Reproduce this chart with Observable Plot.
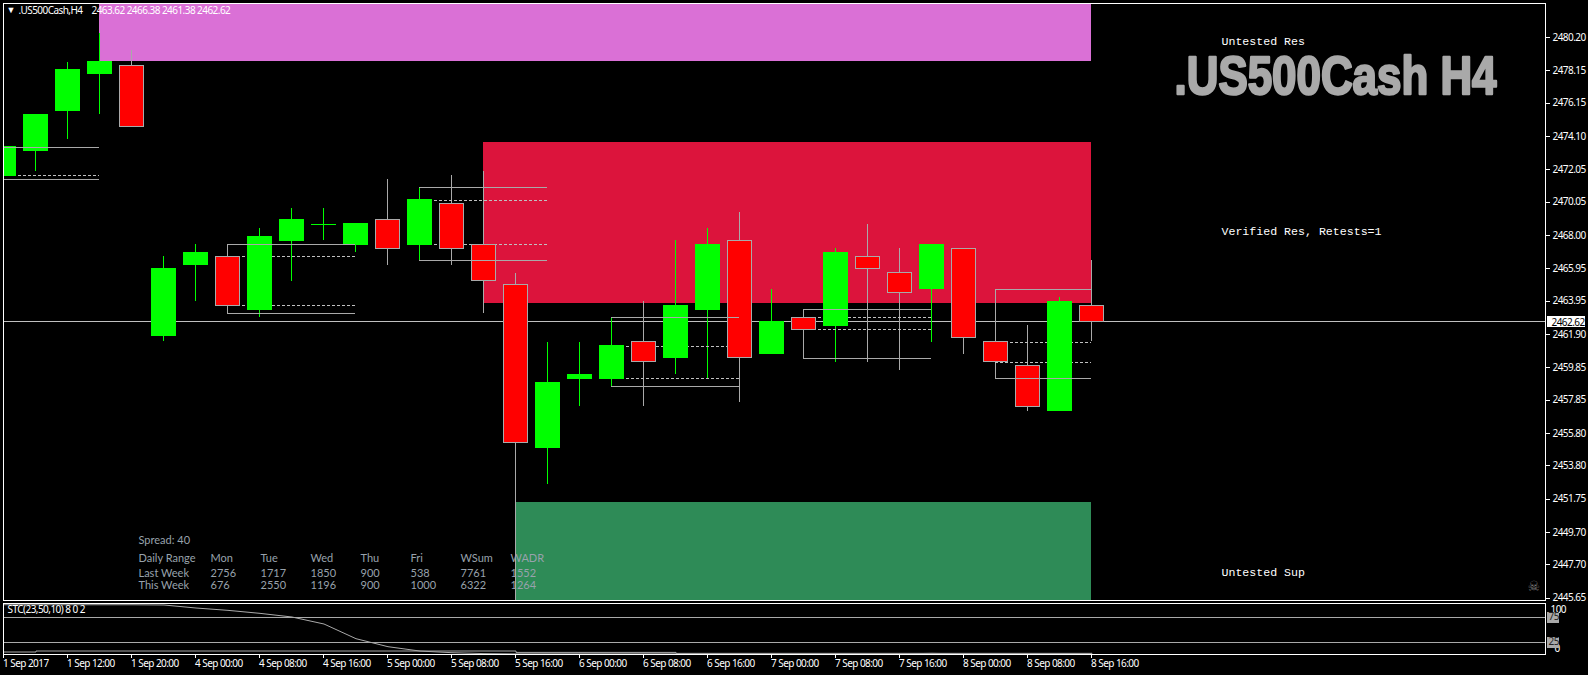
<!DOCTYPE html>
<html><head><meta charset="utf-8">
<script src="https://cdn.jsdelivr.net/npm/d3@7"></script>
<script src="https://cdn.jsdelivr.net/npm/@observablehq/plot@0.6"></script>
<style>html,body{margin:0;padding:0;background:#000;overflow:hidden}svg{display:block;background:#000}
.tight text{letter-spacing:-.55px}</style>
</head><body><div id="c"></div>
<script>
// Bars 0..34, four-hour candles
const opens = [2471.62,2473.12,2475.62,2477.87,2478.37,2461.72,2466.12,2466.62,2463.37,2467.62,2468.62,2467.37,2468.87,2467.37,2469.87,2467.37,2464.87,2454.87,2459.12,2459.12,2461.37,2460.37,2463.37,2467.62,2460.62,2462.87,2462.37,2466.62,2465.62,2464.62,2467.12,2461.37,2459.87,2457.12,2463.62];
const highs = [2473.37,2475.37,2478.62,2480.37,2479.37,2466.62,2467.37,2467.37,2468.37,2469.62,2469.62,2468.62,2471.37,2470.87,2471.62,2471.87,2465.62,2461.37,2461.37,2462.87,2463.87,2467.62,2468.37,2469.37,2464.62,2463.37,2467.12,2468.62,2467.12,2467.37,2467.12,2464.62,2462.37,2464.12,2466.38];
const lows  = [2471.37,2471.87,2473.87,2475.37,2474.62,2461.38,2463.87,2463.12,2462.87,2465.12,2467.62,2466.87,2466.12,2466.37,2466.12,2463.12,2445.40,2452.62,2457.37,2458.62,2457.37,2459.37,2459.12,2457.62,2460.62,2460.37,2460.12,2460.12,2459.62,2461.37,2460.62,2459.12,2457.12,2457.12,2461.38];
const closes= [2473.37,2475.37,2478.12,2478.62,2474.62,2465.87,2466.87,2463.62,2467.87,2468.87,2468.62,2468.62,2467.12,2470.12,2467.12,2465.12,2455.12,2458.87,2459.37,2461.12,2460.12,2463.62,2467.37,2460.37,2462.62,2462.12,2466.87,2465.87,2464.37,2467.37,2461.62,2460.12,2457.37,2463.87,2462.62];
const stcMain = [99.5,99.5,99.5,99.5,99.5,99,93,88.3,82.3,75,61,31.6,15.6,6.9,3.6,1.8,1.2,1.2,1.2,1.2,1.2,1.2,1.2,1.2,1.2,1.2,1.2,1.2,1.2,2.3,1.2,1.2,1.2,1.2,1.2];
const stcSignal = [5,7,7,7,7,7,7,7,7,7,7,7,7,7,7,7,4.2,4.2,4.2,4.2,4.2,2.3,2.3,2.3,2.3,2.3,2.3,2.3,2.3,2.3,2.3,2.3,2.3,2.3,2.3];

const xTickBars = [0,2,4,6,8,10,12,14,16,18,20,22,24,26,28,30,32,34];
const xTickLabels = ["1 Sep 2017","1 Sep 12:00","1 Sep 20:00","4 Sep 00:00","4 Sep 08:00","4 Sep 16:00","5 Sep 00:00","5 Sep 08:00","5 Sep 16:00","6 Sep 00:00","6 Sep 08:00","6 Sep 16:00","7 Sep 00:00","7 Sep 08:00","7 Sep 16:00","8 Sep 00:00","8 Sep 08:00","8 Sep 16:00"];
const yTicks = [2480.20,2478.15,2476.15,2474.10,2472.05,2470.05,2468.00,2465.95,2463.95,2461.90,2459.85,2457.85,2455.80,2453.80,2451.75,2449.70,2447.70,2445.65];

// Supply and demand zones: first bar, last bar, top price, bottom price
const zoneFrom = [3,15,16];
const zoneTo = [34,34,34];
const zoneTop = [2482.28,2473.67,2451.46];
const zoneBottom = [2478.68,2463.75,2445.40];
const zoneColor = ["#DA70D6","#DC143C","#2E8B57"];
// Bars whose high, low, open and close are projected to the right
const levelBars = [0,7,13,19,25,31];
const levelEnd = [3,11,17,23,29,34];

const tableDays = ["Daily Range","Mon","Tue","Wed","Thu","Fri","WSum","WADR"];
const lastWeek = ["Last Week","2756","1717","1850","900","538","7761","1552"];
const thisWeek = ["This Week","676","2550","1196","900","1000","6322","1264"];

const GREY="#A9A9A9", TXT="'Liberation Sans',Arial,sans-serif", MONO="'Liberation Mono',monospace", UI="'Noto Sans',sans-serif";
const W=1588, barStep=32, bar0=3.5, frameL=3, frameR=1545;
const xDom=[(frameL-bar0)/barStep,(frameR-bar0)/barStep];

const bars=opens.map((o,i)=>({i,o,h:highs[i],l:lows[i],c:closes[i],up:closes[i]>=o}));
const dojis=bars.filter(d=>d.o===d.c);
const zones=zoneFrom.map((f,k)=>({f,t:zoneTo[k],top:zoneTop[k],bot:zoneBottom[k],col:zoneColor[k]}));
const solids=[],dashes=[];
levelBars.forEach((b,k)=>{const e=levelEnd[k];
  solids.push({a:b,e,p:highs[b]},{a:b,e,p:lows[b]});
  dashes.push({a:b,e,p:opens[b]},{a:b,e,p:closes[b]});});
const crisp={shapeRendering:"crispEdges"};
const note=(t,dx,dy,o={})=>Plot.text([t],{frameAnchor:"top-left",dx:dx-frameL,dy:dy-3,textAnchor:"start",lineAnchor:"middle",fill:"white",...o});
const tbl={fill:"#98a2ac",fontFamily:"Lato,sans-serif",fontSize:11};
const ui={fontFamily:UI,fontSize:10,className:"tight"};
const colX=[138,210,260,310,360,410,460,510];
const tableMarks=[note("Spread: 40",138,540,tbl)];
[[tableDays,558],[lastWeek,573],[thisWeek,585]].forEach(([row,yy])=>row.forEach((t,j)=>tableMarks.push(note(t,colX[j],yy,tbl))));

const main=Plot.plot({
  width:W,height:602,marginLeft:frameL,marginRight:W-frameR,marginTop:3,marginBottom:2,
  style:{background:"#000",color:"white",fontFamily:TXT,fontSize:"10px"},
  x:{type:"linear",domain:xDom,axis:null},
  y:{domain:[2445.444,2482.237],axis:null},
  marks:[
    Plot.rect(zones,{x1:d=>d.f,x2:d=>d.t,y1:"bot",y2:"top",fill:"col",dx:-1,clip:true,...crisp}),
    Plot.ruleY([closes[34]],{stroke:"#C0C0C0",...crisp}),
    Plot.ruleX(bars,{x:"i",y1:"l",y2:"h",stroke:d=>d.up?"#00FF00":GREY,dx:-1,clip:true,...crisp}),
    Plot.ruleY(dashes,{x1:"a",x2:"e",y:"p",stroke:"#C0C0C0",strokeDasharray:"3 2",dx:-1,clip:true,...crisp}),
    Plot.rect(bars,{x1:d=>d.i-0.375,x2:d=>d.i+0.375,y1:"o",y2:"c",fill:d=>d.up?"#00FF00":"#FF0000",stroke:d=>d.up?"#00FF00":GREY,clip:true,...crisp}),
    Plot.ruleY(dojis,{x1:d=>d.i-0.39,x2:d=>d.i+0.39,y:"c",stroke:"#00FF00",...crisp}),
    Plot.ruleY(solids,{x1:"a",x2:"e",y:"p",stroke:GREY,dx:-1,clip:true,...crisp}),
    Plot.frame({stroke:"white",...crisp}),
    Plot.axisY(yTicks,{anchor:"right",tickSize:4,tickPadding:3,dy:1,tickFormat:d3.format(".2f"),stroke:"white",fill:"white",...ui,...crisp}),
    Plot.text([closes[34]],{frameAnchor:"right",dx:6,dy:1,y:d=>d,textAnchor:"start",text:d=>d3.format(".2f")(d),fill:"black",fontFamily:UI,fontSize:10,className:"last-price tight"}),
    note("\u25BC",6,10,{fontSize:9}),
    note(".US500Cash,H4",18,10,{...ui}),
    note("2463.62 2466.38 2461.38 2462.62",91,10,{...ui}),
    note("Untested Res",1221,40.7,{fontFamily:MONO,fontSize:11.6}),
    note("Verified Res, Retests=1",1221,231,{fontFamily:MONO,fontSize:11.6}),
    note("Untested Sup",1221,571.7,{fontFamily:MONO,fontSize:11.6}),
    note(".US500Cash H4",1174,76,{fill:GREY,stroke:GREY,strokeWidth:2.5,fontSize:54,fontWeight:"bold",fontFamily:"'Liberation Sans Narrow','Liberation Sans',sans-serif",className:"big-title"}),
    note("\u2620",1527,586,{fill:"#777",fontFamily:"'DejaVu Sans'",fontSize:14}),
    ...tableMarks
  ]
});
// Price tag behind the last-price label, positioned by the chart's own y scale
const sel=d3.select(main);
const py=main.scale("y").apply(closes[34]);
sel.append("rect").attr("x",frameR+2).attr("y",Math.round(py)-5).attr("width",38).attr("height",11).attr("fill","white");
sel.select("g.last-price").raise();
sel.select("g.big-title text").attr("textLength",322).attr("lengthAdjust","spacingAndGlyphs");

const sub=Plot.plot({
  width:W,height:73,marginLeft:frameL,marginRight:W-frameR,marginTop:1,marginBottom:21,
  style:{background:"#000",color:"white",fontFamily:TXT,fontSize:"10px"},
  x:{type:"linear",domain:xDom,axis:null},
  y:{domain:[0,100],range:[52,2],axis:null},
  marks:[
    Plot.ruleY([75,25],{stroke:GREY,...crisp}),
    Plot.line(stcSignal,{x:(d,i)=>i,y:d=>d,stroke:GREY,strokeWidth:1,curve:"step-after",clip:true}),
    Plot.line(stcMain,{x:(d,i)=>i,y:d=>d,stroke:GREY,strokeWidth:1,clip:true}),
    Plot.frame({stroke:"white",...crisp}),
    Plot.axisX(xTickBars,{anchor:"bottom",tickSize:4,tickPadding:1,textAnchor:"start",dx:-1,tickFormat:(d,i)=>xTickLabels[i],stroke:"white",fill:"white",...ui,...crisp}),
    Plot.text([100],{y:d=>d,dy:5,frameAnchor:"right",dx:5,textAnchor:"start",fill:"white",text:d=>String(d),...ui}),
    Plot.text([0],{y:d=>d,dy:-6,frameAnchor:"right",dx:9,textAnchor:"start",fill:"white",text:d=>String(d),...ui}),
    Plot.text([75,25],{y:d=>d,frameAnchor:"right",dx:3,textAnchor:"start",text:d=>String(d),fill:"#222",fontFamily:UI,fontSize:10,className:"level-tag tight"}),
    note("STC(23,50,10) 8 0 2",7,9.5,{...ui})
  ]
});
const subSel=d3.select(sub), sy=sub.scale("y");
[75,25].forEach(v=>subSel.append("rect").attr("x",frameR+2).attr("y",Math.round(sy.apply(v))-5).attr("width",12).attr("height",11).attr("fill",GREY));
subSel.select("g.level-tag").raise();
document.getElementById("c").append(main,sub);
</script></body></html>
